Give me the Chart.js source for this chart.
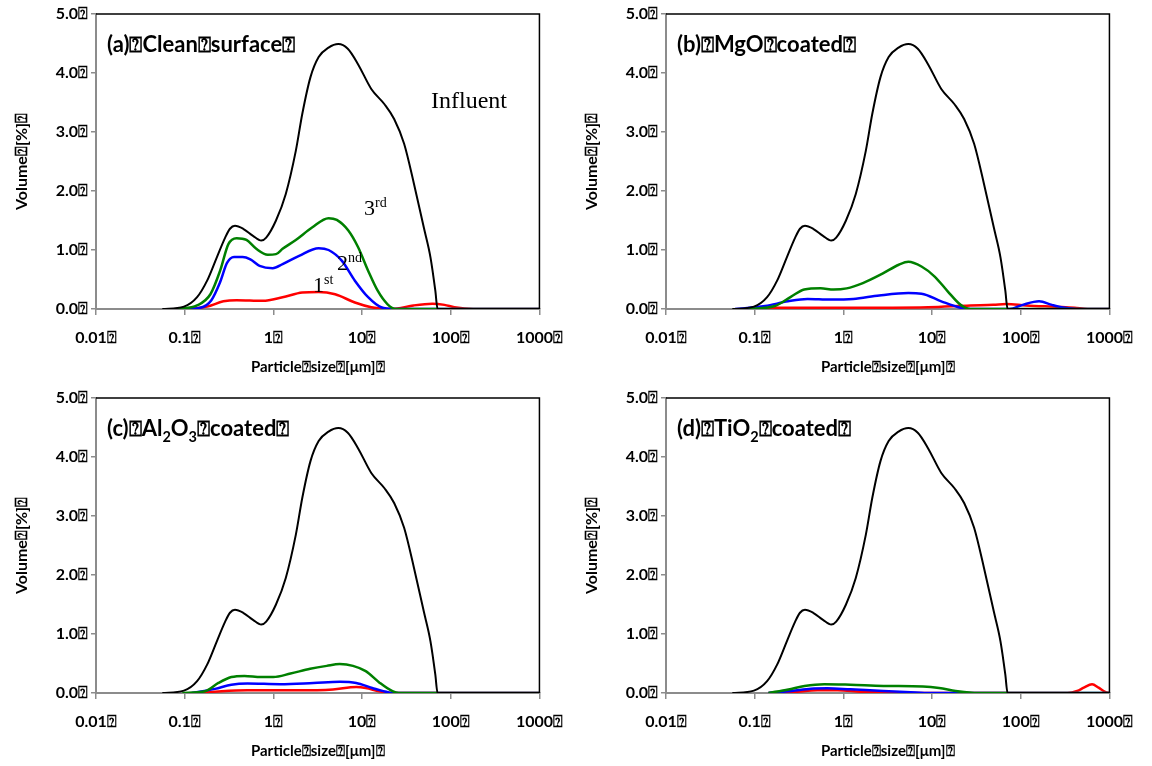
<!DOCTYPE html>
<html>
<head>
<meta charset="utf-8">
<script src="https://cdn.jsdelivr.net/npm/chart.js@4/dist/chart.umd.min.js"></script>
<style>
  html, body { margin: 0; padding: 0; background: #fff; }
  #wrap { position: relative; width: 1152px; height: 766px; overflow: hidden; background: #fff; }
  canvas { position: absolute; }
</style>
</head>
<body>
<div id="wrap">
  <canvas id="pa" width="576" height="383" style="left:0;top:0"></canvas>
  <canvas id="pb" width="576" height="383" style="left:570px;top:0"></canvas>
  <canvas id="pc" width="576" height="383" style="left:0;top:384px"></canvas>
  <canvas id="pd" width="576" height="383" style="left:570px;top:384px"></canvas>
</div>
<script>
// Missing-glyph marker that appears after each label
const Q = '\u2370';

// Axis ticks
const sizeTicks = [0.01, 0.1, 1, 10, 100, 1000];
const volumeTicks = [0, 1, 2, 3, 4, 5];

// Influent particle size distribution: [size µm, volume %]
const influent = [[0.056,0],[0.098,0.04],[0.138,0.2],[0.179,0.48],[0.231,0.88],[0.286,1.21],[0.324,1.36],[0.369,1.41],[0.456,1.36],[0.589,1.24],[0.73,1.16],[0.83,1.21],[1.07,1.5],[1.38,1.95],[1.79,2.68],[2.12,3.31],[2.62,3.93],[3.24,4.27],[4.19,4.43],[5.4,4.49],[6.9,4.41],[9.0,4.15],[12.7,3.73],[17.9,3.47],[23,3.22],[29.8,2.8],[38.5,2.12],[49.7,1.38],[59,0.88],[67,0.31],[71,0],[1000,0]];

// (a) Clean surface: 1st, 2nd, 3rd effluent
const cleanFirst  = [[0.117,0],[0.179,0.04],[0.273,0.13],[0.385,0.15],[0.76,0.14],[1.27,0.2],[2.12,0.28],[3.24,0.29],[4.97,0.25],[8.3,0.11],[12.7,0.03],[19.4,0],[25,0.01],[38,0.06],[62,0.09],[85,0.07],[110,0.03],[180,0],[1000,0]];
const cleanSecond = [[0.107,0],[0.15,0.02],[0.2,0.15],[0.25,0.45],[0.3,0.78],[0.36,0.88],[0.45,0.88],[0.55,0.84],[0.699,0.73],[0.983,0.69],[1.27,0.76],[1.95,0.9],[3.24,1.03],[4.19,1.0],[5.9,0.82],[8.3,0.48],[11.7,0.2],[16.4,0.03],[23,0],[1000,0]];
const cleanThird  = [[0.083,0],[0.138,0.06],[0.195,0.25],[0.251,0.65],[0.311,1.1],[0.385,1.2],[0.497,1.17],[0.642,1.02],[0.865,0.92],[1.07,0.93],[1.27,1.02],[1.79,1.17],[2.73,1.38],[4.19,1.54],[5.19,1.51],[7.0,1.33],[9.0,1.05],[11.7,0.65],[15,0.31],[19.4,0.08],[24,0],[1000,0]];

// (b) MgO coated
const mgoFirst  = [[0.086,0],[0.17,0.02],[1,0.02],[9,0.03],[27,0.06],[49,0.07],[69,0.085],[114,0.06],[268,0.035],[405,0.02],[570,0],[1000,0]];
const mgoSecond = [[0.06,0],[0.131,0.05],[0.237,0.13],[0.394,0.17],[0.713,0.16],[1.29,0.17],[2.54,0.23],[5.4,0.27],[7.6,0.26],[12.7,0.13],[21,0.02],[27,0],[75,0],[105,0.07],[161,0.13],[225,0.07],[316,0.02],[420,0],[1000,0]];
const mgoThird  = [[0.086,0],[0.169,0.05],[0.258,0.21],[0.362,0.33],[0.553,0.35],[0.776,0.33],[1.09,0.35],[1.66,0.44],[2.76,0.6],[4.22,0.75],[5.4,0.8],[7.6,0.72],[10.7,0.55],[15,0.3],[21,0.07],[27,0],[1000,0]];

// (c) Al2O3 coated
const aloFirst  = [[0.14,0],[0.26,0.03],[0.51,0.045],[1.85,0.045],[4.7,0.06],[8.6,0.1],[11,0.085],[15.6,0.03],[22,0],[1000,0]];
const aloSecond = [[0.12,0],[0.22,0.07],[0.336,0.14],[0.51,0.16],[1.2,0.15],[2.83,0.17],[5.6,0.19],[8.6,0.17],[13,0.085],[20,0.01],[24,0],[1000,0]];
const aloThird  = [[0.094,0],[0.17,0.03],[0.24,0.17],[0.336,0.27],[0.472,0.29],[0.723,0.27],[1.0,0.27],[1.56,0.33],[2.6,0.41],[4.0,0.46],[5.6,0.49],[7.9,0.46],[11,0.37],[15.6,0.18],[22,0.03],[26,0],[1000,0]];

// (d) TiO2 coated
const tioFirst  = [[0.143,0],[0.28,0.017],[0.51,0.045],[0.86,0.045],[1.56,0.023],[3.66,0.005],[6,0],[336,0],[433,0.034],[514,0.09],[637,0.147],[755,0.09],[895,0.02],[1000,0]];
const tioSecond = [[0.143,0],[0.26,0.034],[0.43,0.073],[0.66,0.08],[1.2,0.062],[2.83,0.034],[6.6,0.01],[10,0],[1000,0]];
const tioThird  = [[0.143,0],[0.24,0.06],[0.365,0.12],[0.61,0.15],[1.2,0.14],[2.83,0.12],[7.9,0.11],[12,0.085],[18.5,0.034],[28,0.005],[40,0],[1000,0]];

const SANS = 'Lato, "Open Sans", "Liberation Sans", sans-serif';
const SERIF = '"Liberation Serif", "DejaVu Serif", serif';
const AXIS_GREY = '#8c8c8c';

function toPoints(pairs) { return pairs.map(([x, y]) => ({ x, y })); }

function drawRich(ctx, x, baseline, segs, size, family, weight) {
  let cx = x;
  ctx.textBaseline = 'alphabetic';
  ctx.textAlign = 'left';
  for (const s of segs) {
    const fs = s.sub ? size * 0.66 : s.sup ? size * 0.64 : size;
    const dy = s.sub ? size * 0.26 : s.sup ? -size * 0.36 : 0;
    ctx.font = `${weight} ${fs}px ${family}`;
    ctx.fillText(s.t, cx, baseline + dy);
    cx += ctx.measureText(s.t).width;
  }
}

// Frame on the top and right sides, panel heading and in-plot notes
const panelDecor = {
  id: 'panelDecor',
  afterDraw(chart, args, opts) {
    const { ctx, chartArea: a } = chart;
    ctx.save();
    ctx.strokeStyle = '#000';
    ctx.lineWidth = 1.5;
    ctx.beginPath();
    ctx.moveTo(a.left, a.top);
    ctx.lineTo(a.right, a.top);
    ctx.lineTo(a.right, a.bottom);
    ctx.stroke();
    ctx.fillStyle = '#000';
    if (opts.heading) drawRich(ctx, 107, 52, opts.heading, 22, SANS, 'bold');
    (opts.notes || []).forEach(n => drawRich(ctx, n.x, n.y, n.segs, n.size, SERIF, 'normal'));
    ctx.restore();
  }
};

function makePanel(id, heading, first, second, third, notes) {
  const line = (data, color, w) => ({
    data: toPoints(data), borderColor: color, borderWidth: w,
    pointRadius: 0, tension: 0.4, cubicInterpolationMode: 'monotone', fill: false
  });
  new Chart(document.getElementById(id), {
    type: 'line',
    data: {
      datasets: [
        line(influent, '#000000', 2),
        line(third, '#008000', 2.5),
        line(second, '#0000ff', 2.5),
        line(first, '#ff0000', 2.5)
      ]
    },
    options: {
      responsive: false,
      animation: false,
      devicePixelRatio: 1,
      layout: { padding: { left: 0, top: 14, right: 30, bottom: 0 } },
      plugins: {
        legend: { display: false },
        tooltip: { enabled: false },
        panelDecor: { heading, notes }
      },
      scales: {
        x: {
          type: 'logarithmic', min: 0.01, max: 1000,
          afterBuildTicks: s => { s.ticks = sizeTicks.map(v => ({ value: v })); },
          afterFit: s => { s.height = 74; },
          ticks: {
            color: '#000', padding: 13, maxRotation: 0, autoSkip: false,
            font: { family: SANS, size: 16, weight: 'bold' },
            callback: v => String(v) + Q
          },
          grid: { drawOnChartArea: false, drawTicks: true, tickLength: 6, color: AXIS_GREY, lineWidth: 1.5 },
          border: { display: true, color: AXIS_GREY, width: 2 },
          title: {
            display: true, text: 'Particle' + Q + 'size' + Q + '[\u03bcm]' + Q, color: '#000',
            font: { family: SANS, size: 15, weight: 'bold' }, padding: { top: 0, bottom: 7 }
          }
        },
        y: {
          min: 0, max: 5,
          afterBuildTicks: s => { s.ticks = volumeTicks.map(v => ({ value: v })); },
          afterFit: s => { s.width = 96; },
          ticks: {
            color: '#000', padding: 3,
            font: { family: SANS, size: 16, weight: 'bold' },
            callback: v => Number(v).toFixed(1) + Q
          },
          grid: { drawOnChartArea: false, drawTicks: true, tickLength: 5, color: AXIS_GREY, lineWidth: 1.5 },
          border: { display: true, color: AXIS_GREY, width: 2 },
          title: {
            display: true, text: 'Volume' + Q + '[%]' + Q, color: '#000',
            font: { family: SANS, size: 16, weight: 'bold' }, padding: { top: 12, bottom: 0 }
          }
        }
      }
    },
    plugins: [panelDecor]
  });
}

makePanel('pa', [{ t: '(a)' + Q + 'Clean' + Q + 'surface' + Q }], cleanFirst, cleanSecond, cleanThird, [
  { x: 431, y: 108, size: 24, segs: [{ t: 'Influent' }] },
  { x: 364, y: 215, size: 22, segs: [{ t: '3' }, { t: 'rd', sup: true }] },
  { x: 337, y: 270, size: 22, segs: [{ t: '2' }, { t: 'nd', sup: true }] },
  { x: 313, y: 292, size: 22, segs: [{ t: '1' }, { t: 'st', sup: true }] }
]);
makePanel('pb', [{ t: '(b)' + Q + 'MgO' + Q + 'coated' + Q }], mgoFirst, mgoSecond, mgoThird, []);
makePanel('pc', [{ t: '(c)' + Q + 'Al' }, { t: '2', sub: true }, { t: 'O' }, { t: '3', sub: true }, { t: Q + 'coated' + Q }], aloFirst, aloSecond, aloThird, []);
makePanel('pd', [{ t: '(d)' + Q + 'TiO' }, { t: '2', sub: true }, { t: Q + 'coated' + Q }], tioFirst, tioSecond, tioThird, []);
</script>
</body>
</html>
